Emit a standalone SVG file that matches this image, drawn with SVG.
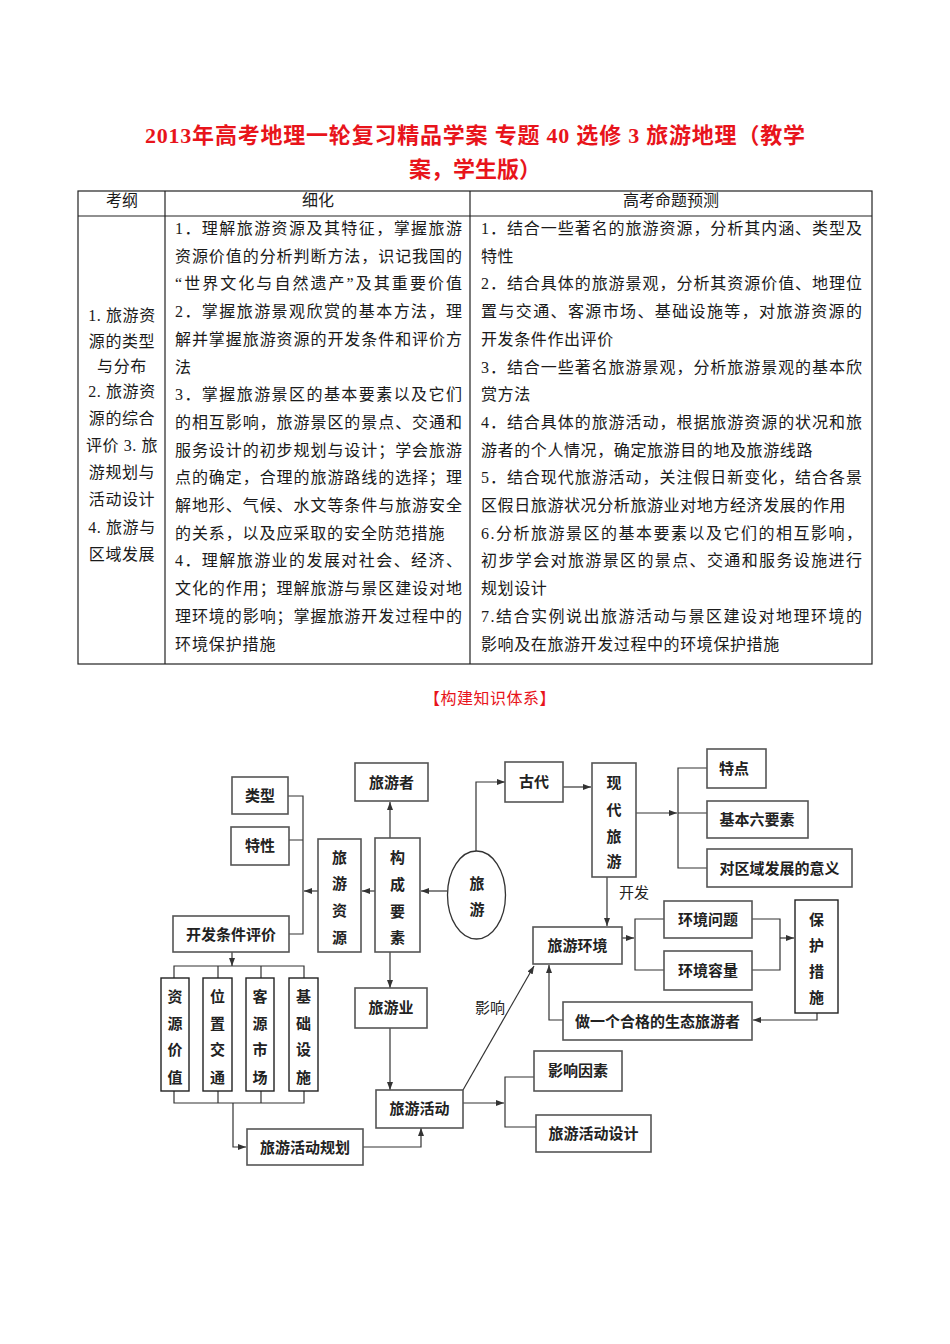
<svg xmlns="http://www.w3.org/2000/svg" width="950" height="1344" viewBox="0 0 950 1344">
<style>
.title{font-family:"Liberation Serif","Noto Sans CJK SC",serif;font-size:22px;font-weight:bold;fill:#e8141b;text-anchor:middle}
.sub{font-family:"Liberation Serif","Noto Sans CJK SC",serif;font-size:16px;fill:#e8141b;text-anchor:middle;letter-spacing:0.5px}
.tb{font-family:"Liberation Serif","Noto Sans CJK SC",serif;font-size:16px;fill:#1a1a1a}
.c2{letter-spacing:0.9px}
.c3{letter-spacing:0.6px}
.hd{text-anchor:middle}
.c1{text-anchor:middle;letter-spacing:0.6px}
.grid{fill:none;stroke:#222;stroke-width:1.2}
.box{fill:#fff;stroke:#555;stroke-width:1.6}
.box2{fill:#fff;stroke:#222;stroke-width:1.4}
.nt{font-family:"Liberation Serif","Noto Sans CJK SC",serif;font-size:15px;font-weight:bold;fill:#222;text-anchor:middle}
.lb{font-family:"Liberation Serif","Noto Sans CJK SC",serif;font-size:15px;fill:#222;text-anchor:middle}
.con{fill:none;stroke:#333;stroke-width:1.2}
</style>
<defs>
<marker id="ah" markerUnits="userSpaceOnUse" markerWidth="8" markerHeight="6" refX="8" refY="3" orient="auto">
<path d="M0,0 L8,3 L0,6 z" fill="#333"/>
</marker>
</defs>
<rect width="950" height="1344" fill="#fff"/>

<g id="title">
<text class="title" x="475" y="143" textLength="660" lengthAdjust="spacing">2013年高考地理一轮复习精品学案 专题 40 选修 3 旅游地理（教学</text>
<text class="title" x="475" y="177">案，学生版）</text>
</g>

<g id="table">
<rect class="grid" x="78" y="191" width="794" height="473"/>
<line class="grid" x1="78" y1="216" x2="872" y2="216"/>
<line class="grid" x1="165" y1="191" x2="165" y2="664"/>
<line class="grid" x1="470" y1="191" x2="470" y2="664"/>
<text class="tb hd" x="122" y="206">考纲</text>
<text class="tb hd" x="318" y="206">细化</text>
<text class="tb hd" x="671" y="206">高考命题预测</text>

<g id="col1">
<text class="tb c1" x="122" y="321">1. 旅游资</text>
<text class="tb c1" x="122" y="347">源的类型</text>
<text class="tb c1" x="122" y="372">与分布</text>
<text class="tb c1" x="122" y="397">2. 旅游资</text>
<text class="tb c1" x="122" y="424">源的综合</text>
<text class="tb c1" x="122" y="451">评价 3. 旅</text>
<text class="tb c1" x="122" y="478">游规划与</text>
<text class="tb c1" x="122" y="505">活动设计</text>
<text class="tb c1" x="122" y="533">4. 旅游与</text>
<text class="tb c1" x="122" y="560">区域发展</text>
</g>

<g id="col2">
<text class="tb" x="175" y="234" textLength="287" lengthAdjust="spacing">1．理解旅游资源及其特征，掌握旅游</text>
<text class="tb" x="175" y="261.7" textLength="287" lengthAdjust="spacing">资源价值的分析判断方法，识记我国的</text>
<text class="tb" x="175" y="289.4" textLength="287" lengthAdjust="spacing">“世界文化与自然遗产”及其重要价值</text>
<text class="tb" x="175" y="317.1" textLength="287" lengthAdjust="spacing">2．掌握旅游景观欣赏的基本方法，理</text>
<text class="tb" x="175" y="344.8" textLength="287" lengthAdjust="spacing">解并掌握旅游资源的开发条件和评价方</text>
<text class="tb c2" x="175" y="372.5">法</text>
<text class="tb" x="175" y="400.2" textLength="287" lengthAdjust="spacing">3．掌握旅游景区的基本要素以及它们</text>
<text class="tb" x="175" y="427.9" textLength="287" lengthAdjust="spacing">的相互影响，旅游景区的景点、交通和</text>
<text class="tb" x="175" y="455.6" textLength="287" lengthAdjust="spacing">服务设计的初步规划与设计；学会旅游</text>
<text class="tb" x="175" y="483.3" textLength="287" lengthAdjust="spacing">点的确定，合理的旅游路线的选择；理</text>
<text class="tb" x="175" y="511" textLength="287" lengthAdjust="spacing">解地形、气候、水文等条件与旅游安全</text>
<text class="tb c2" x="175" y="538.7">的关系，以及应采取的安全防范措施</text>
<text class="tb" x="175" y="566.4" textLength="287" lengthAdjust="spacing">4．理解旅游业的发展对社会、经济、</text>
<text class="tb" x="175" y="594.1" textLength="287" lengthAdjust="spacing">文化的作用；理解旅游与景区建设对地</text>
<text class="tb" x="175" y="621.8" textLength="287" lengthAdjust="spacing">理环境的影响；掌握旅游开发过程中的</text>
<text class="tb c2" x="175" y="649.5">环境保护措施</text>
</g>

<g id="col3">
<text class="tb" x="481" y="234" textLength="381" lengthAdjust="spacing">1．结合一些著名的旅游资源，分析其内涵、类型及</text>
<text class="tb c3" x="481" y="261.7">特性</text>
<text class="tb" x="481" y="289.4" textLength="381" lengthAdjust="spacing">2．结合具体的旅游景观，分析其资源价值、地理位</text>
<text class="tb" x="481" y="317.1" textLength="381" lengthAdjust="spacing">置与交通、客源市场、基础设施等，对旅游资源的</text>
<text class="tb c3" x="481" y="344.8">开发条件作出评价</text>
<text class="tb" x="481" y="372.5" textLength="381" lengthAdjust="spacing">3．结合一些著名旅游景观，分析旅游景观的基本欣</text>
<text class="tb c3" x="481" y="400.2">赏方法</text>
<text class="tb" x="481" y="427.9" textLength="381" lengthAdjust="spacing">4．结合具体的旅游活动，根据旅游资源的状况和旅</text>
<text class="tb c3" x="481" y="455.6">游者的个人情况，确定旅游目的地及旅游线路</text>
<text class="tb" x="481" y="483.3" textLength="381" lengthAdjust="spacing">5．结合现代旅游活动，关注假日新变化，结合各景</text>
<text class="tb c3" x="481" y="511">区假日旅游状况分析旅游业对地方经济发展的作用</text>
<text class="tb" x="481" y="538.7" textLength="381" lengthAdjust="spacing">6.分析旅游景区的基本要素以及它们的相互影响，</text>
<text class="tb" x="481" y="566.4" textLength="381" lengthAdjust="spacing">初步学会对旅游景区的景点、交通和服务设施进行</text>
<text class="tb c3" x="481" y="594.1">规划设计</text>
<text class="tb" x="481" y="621.8" textLength="381" lengthAdjust="spacing">7.结合实例说出旅游活动与景区建设对地理环境的</text>
<text class="tb c3" x="481" y="649.5">影响及在旅游开发过程中的环境保护措施</text>
</g>
</g>

<g id="heading">
<text class="sub" x="490" y="704">【构建知识体系】</text>
</g>

<g id="connectors">
<path class="con" d="M288,796 H303 V934 H289 M289,840 H303"/>
<path class="con" d="M318,891 H304" marker-end="url(#ah)"/>
<path class="con" d="M375,891 H362" marker-end="url(#ah)"/>
<path class="con" d="M447,891 H421" marker-end="url(#ah)"/>
<path class="con" d="M390,838 V802" marker-end="url(#ah)"/>
<path class="con" d="M390,952 V988" marker-end="url(#ah)"/>
<path class="con" d="M390,1028 V1090" marker-end="url(#ah)"/>
<path class="con" d="M232,952 V966" marker-end="url(#ah)"/>
<path class="con" d="M174,978 V966 H304 V978 M218,966 V978 M261,966 V978"/>
<path class="con" d="M174,1091 V1103 H304 V1091 M218,1091 V1103 M261,1091 V1103"/>
<path class="con" d="M233,1103 V1147 H246" marker-end="url(#ah)"/>
<path class="con" d="M363,1147 H421 V1128" marker-end="url(#ah)"/>
<path class="con" d="M463,1090 L534,966" marker-end="url(#ah)"/>
<path class="con" d="M476,851 V782 H505" marker-end="url(#ah)"/>
<path class="con" d="M563,787 H591" marker-end="url(#ah)"/>
<path class="con" d="M636,813 H677" marker-end="url(#ah)"/>
<path class="con" d="M707,768 H678 V868 H707 M678,813 H707"/>
<path class="con" d="M607,877 V926" marker-end="url(#ah)"/>
<path class="con" d="M622,938 H634" marker-end="url(#ah)"/>
<path class="con" d="M664,919 H635 V970 H664"/>
<path class="con" d="M752,919 H780 V970 H752"/>
<path class="con" d="M780,938 H794" marker-end="url(#ah)"/>
<path class="con" d="M817,1013 V1020 H753" marker-end="url(#ah)"/>
<path class="con" d="M563,1020 H549 V965" marker-end="url(#ah)"/>
<path class="con" d="M463,1103 H504" marker-end="url(#ah)"/>
<path class="con" d="M534,1077 H505 V1127 H536"/>
<text class="lb" x="490" y="1013">影响</text>
<text class="lb" x="634" y="898">开发</text>
</g>

<g id="n-leixing"><rect class="box" x="232" y="777" width="56" height="37"/><text class="nt" x="260" y="801">类型</text></g>
<g id="n-texing"><rect class="box" x="231" y="827" width="58" height="38"/><text class="nt" x="260" y="851">特性</text></g>
<g id="n-youke"><rect class="box" x="355" y="763" width="73" height="38"/><text class="nt" x="391.5" y="788">旅游者</text></g>
<g id="n-ziyuan"><rect class="box" x="318" y="839" width="43" height="113"/>
<text class="nt" x="339.5" y="863">旅</text><text class="nt" x="339.5" y="889">游</text><text class="nt" x="339.5" y="916">资</text><text class="nt" x="339.5" y="943">源</text></g>
<g id="n-goucheng"><rect class="box" x="375" y="838" width="45" height="114"/>
<text class="nt" x="397.5" y="863">构</text><text class="nt" x="397.5" y="890">成</text><text class="nt" x="397.5" y="917">要</text><text class="nt" x="397.5" y="943">素</text></g>
<g id="n-kaifa"><rect class="box" x="173" y="916" width="116" height="36"/><text class="nt" x="231" y="940">开发条件评价</text></g>
<g id="n-lvyou"><ellipse cx="476.5" cy="895" rx="29" ry="44" fill="#fff" stroke="#333" stroke-width="1.3"/>
<text class="nt" x="477" y="889">旅</text><text class="nt" x="477" y="915">游</text></g>
<g id="n-gudai"><rect class="box" x="505" y="762" width="58" height="40"/><text class="nt" x="534" y="787">古代</text></g>
<g id="n-xiandai"><rect class="box" x="592" y="763" width="44" height="114"/>
<text class="nt" x="614" y="788">现</text><text class="nt" x="614" y="815">代</text><text class="nt" x="614" y="842">旅</text><text class="nt" x="614" y="867">游</text></g>
<g id="n-tedian"><rect class="box" x="707" y="749" width="59" height="39"/><text class="nt" x="734" y="774">特点</text></g>
<g id="n-liuyaosu"><rect class="box" x="707" y="801" width="101" height="37"/><text class="nt" x="757" y="825">基本六要素</text></g>
<g id="n-yiyi"><rect class="box" x="707" y="849" width="145" height="38"/><text class="nt" x="779.5" y="874">对区域发展的意义</text></g>
<g id="n-huanjing"><rect class="box" x="533" y="927" width="89" height="37"/><text class="nt" x="577.5" y="951">旅游环境</text></g>
<g id="n-wenti"><rect class="box" x="664" y="901" width="88" height="37"/><text class="nt" x="708" y="925">环境问题</text></g>
<g id="n-rongliang"><rect class="box" x="664" y="951" width="88" height="39"/><text class="nt" x="708" y="976">环境容量</text></g>
<g id="n-baohu"><rect class="box2" x="795" y="900" width="43" height="113"/>
<text class="nt" x="816.5" y="925">保</text><text class="nt" x="816.5" y="951">护</text><text class="nt" x="816.5" y="977">措</text><text class="nt" x="816.5" y="1003">施</text></g>
<g id="n-shengtai"><rect class="box" x="563" y="1002" width="189" height="38"/><text class="nt" x="657.5" y="1027">做一个合格的生态旅游者</text></g>
<g id="n-lvyouye"><rect class="box" x="355" y="988" width="72" height="40"/><text class="nt" x="391" y="1013">旅游业</text></g>
<g id="n-huodong"><rect class="box" x="376" y="1090" width="87" height="38"/><text class="nt" x="419.5" y="1114">旅游活动</text></g>
<g id="n-guihua"><rect class="box" x="247" y="1129" width="116" height="36"/><text class="nt" x="305" y="1153">旅游活动规划</text></g>
<g id="n-yinsu"><rect class="box" x="534" y="1051" width="88" height="40"/><text class="nt" x="578" y="1076">影响因素</text></g>
<g id="n-sheji"><rect class="box" x="536" y="1115" width="115" height="37"/><text class="nt" x="593.5" y="1139">旅游活动设计</text></g>
<g id="n-jiazhi"><rect class="box2" x="161" y="978" width="28" height="113"/>
<text class="nt" x="175" y="1002">资</text><text class="nt" x="175" y="1029">源</text><text class="nt" x="175" y="1055">价</text><text class="nt" x="175" y="1083">值</text></g>
<g id="n-weizhi"><rect class="box2" x="203" y="978" width="29" height="113"/>
<text class="nt" x="217.5" y="1002">位</text><text class="nt" x="217.5" y="1029">置</text><text class="nt" x="217.5" y="1055">交</text><text class="nt" x="217.5" y="1083">通</text></g>
<g id="n-keyuan"><rect class="box2" x="246" y="978" width="28" height="113"/>
<text class="nt" x="260" y="1002">客</text><text class="nt" x="260" y="1029">源</text><text class="nt" x="260" y="1055">市</text><text class="nt" x="260" y="1083">场</text></g>
<g id="n-jichu"><rect class="box2" x="289" y="978" width="29" height="113"/>
<text class="nt" x="303.5" y="1002">基</text><text class="nt" x="303.5" y="1029">础</text><text class="nt" x="303.5" y="1055">设</text><text class="nt" x="303.5" y="1083">施</text></g>
</svg>
